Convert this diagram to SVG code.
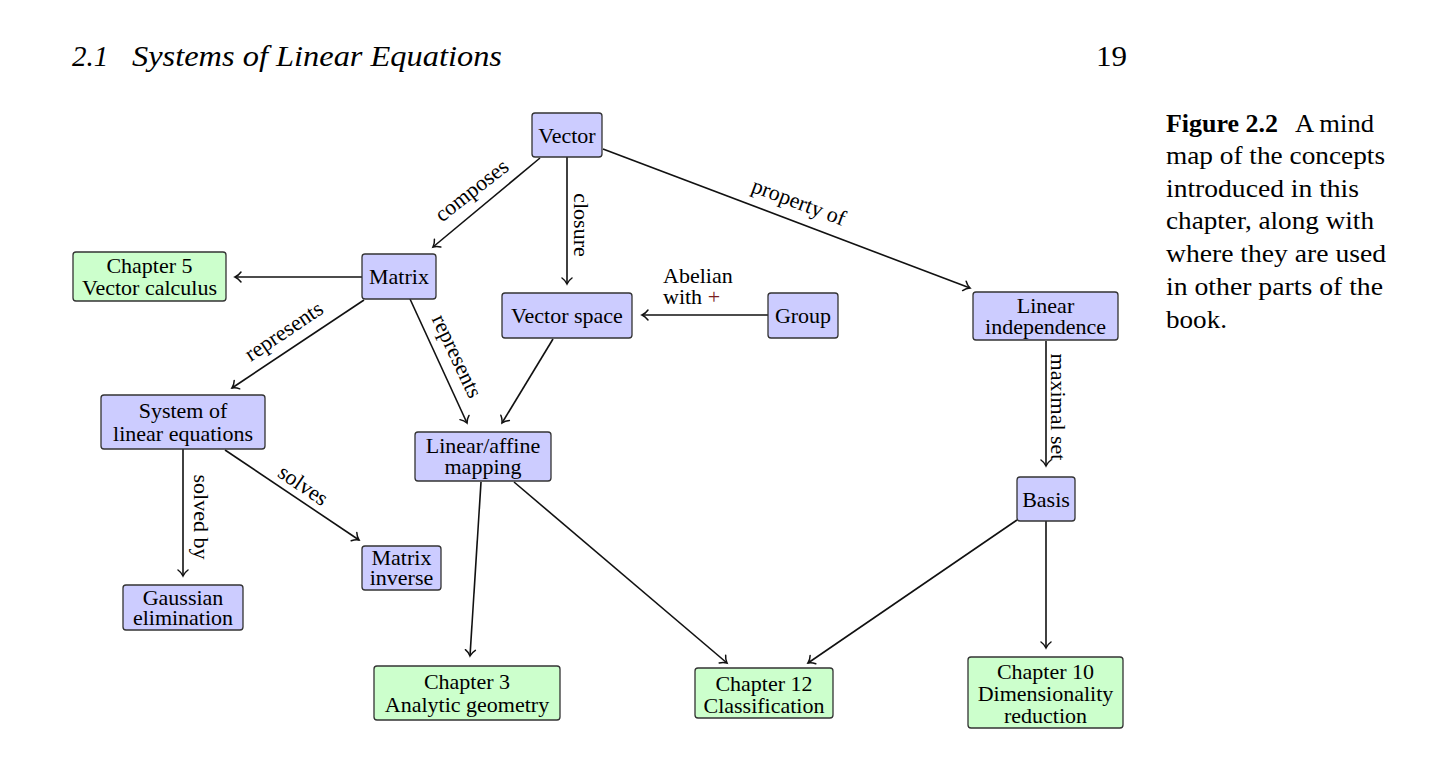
<svg xmlns="http://www.w3.org/2000/svg" width="1440" height="774" viewBox="0 0 1440 774">
<defs>
<marker id="arr" markerUnits="userSpaceOnUse" markerWidth="14" markerHeight="14" viewBox="-8 -7 10 14" refX="0" refY="0" orient="auto">
<path d="M-6,-5 C-4,-2.2 -1.8,-0.8 0,0 C-1.8,0.8 -4,2.2 -6,5" fill="none" stroke="#111" stroke-width="1.5" stroke-linecap="round"/>
</marker>
</defs>
<style>
.b{fill:#ccccff;stroke:#333;stroke-width:1.3}
.g{fill:#ccffcc;stroke:#333;stroke-width:1.3}
.t{font-family:"Liberation Serif","Times New Roman",serif;font-size:22px;fill:#000;text-anchor:middle}
.l{font-family:"Liberation Serif","Times New Roman",serif;font-size:22px;fill:#000;text-anchor:middle}
.c{fill:none;stroke:#111;stroke-width:1.6;marker-end:url(#arr)}
.cap{font-family:"Liberation Serif","Times New Roman",serif;font-size:25px;fill:#000}
</style>
<rect width="1440" height="774" fill="#fff"/>
<g id="header">
<text x="72" y="66" font-family="Liberation Serif, serif" font-style="italic" font-size="29">2.1</text>
<text x="132" y="66" font-family="Liberation Serif, serif" font-style="italic" font-size="29" textLength="370" lengthAdjust="spacingAndGlyphs">Systems of Linear Equations</text>
<text x="1096" y="66" font-family="Liberation Serif, serif" font-size="29" textLength="31" lengthAdjust="spacingAndGlyphs">19</text>
</g>
<g id="caption">
<text class="cap" x="1166" y="132" font-weight="bold" textLength="112" lengthAdjust="spacingAndGlyphs">Figure 2.2</text>
<text class="cap" x="1295" y="132" textLength="79" lengthAdjust="spacingAndGlyphs">A mind</text>
<text class="cap" x="1166" y="164" textLength="219" lengthAdjust="spacingAndGlyphs">map of the concepts</text>
<text class="cap" x="1166" y="197" textLength="193" lengthAdjust="spacingAndGlyphs">introduced in this</text>
<text class="cap" x="1166" y="229" textLength="208" lengthAdjust="spacingAndGlyphs">chapter, along with</text>
<text class="cap" x="1166" y="262" textLength="220" lengthAdjust="spacingAndGlyphs">where they are used</text>
<text class="cap" x="1166" y="295" textLength="217" lengthAdjust="spacingAndGlyphs">in other parts of the</text>
<text class="cap" x="1166" y="328" textLength="61" lengthAdjust="spacingAndGlyphs">book.</text>
</g>
<g id="connectors">
<path class="c" d="M540,158 L433,247"/>
<path class="c" d="M567,157 L567,284"/>
<path class="c" d="M603,149 L970,288"/>
<path class="c" d="M362,277 L235,277"/>
<path class="c" d="M364,300 L232,388"/>
<path class="c" d="M410,299 L467,423"/>
<path class="c" d="M768,315 L642,315"/>
<path class="c" d="M553,339 L502,423"/>
<path class="c" d="M1046,341 L1046,466"/>
<path class="c" d="M183,449 L183,576"/>
<path class="c" d="M225,450 L359,540"/>
<path class="c" d="M481,482 L470,656"/>
<path class="c" d="M514,482 L727,663"/>
<path class="c" d="M1017,520 L808,663"/>
<path class="c" d="M1046,521 L1046,648"/>
<g id="labels">
<text class="l" transform="translate(473,192) rotate(-38)" y="5">composes</text>
<text class="l" transform="translate(574,225) rotate(90)">closure</text>
<text class="l" transform="translate(798,204) rotate(20.6)" y="5">property of</text>
<text class="l" transform="translate(285,333) rotate(-34)" y="5">represents</text>
<text class="l" transform="translate(455,357) rotate(64.7)" y="5">represents</text>
<text class="l" transform="translate(1051,407) rotate(90)">maximal set</text>
<text class="l" transform="translate(194,517) rotate(90)">solved by</text>
<text class="l" transform="translate(302,487) rotate(34.3)" y="5">solves</text>
<text class="l" x="663" y="283" text-anchor="start" style="text-anchor:start">Abelian</text>
<text class="l" x="663" y="304" style="text-anchor:start">with <tspan fill="#7a1f1f">+</tspan></text>
</g>
</g>
<g id="vector"><rect class="b" x="532" y="113" width="70" height="44" rx="3"/><text class="t" x="567" y="142.5">Vector</text></g>
<g id="matrix"><rect class="b" x="362" y="254" width="74" height="45" rx="3"/><text class="t" x="399" y="284">Matrix</text></g>
<g id="chapter5"><rect class="g" x="73" y="252" width="153" height="49" rx="3"/><text class="t" x="149.5" y="273">Chapter 5</text><text class="t" x="149.5" y="295">Vector calculus</text></g>
<g id="vectorspace"><rect class="b" x="502" y="293" width="130" height="45" rx="3"/><text class="t" x="567" y="323">Vector space</text></g>
<g id="group"><rect class="b" x="768" y="293" width="70" height="45" rx="3"/><text class="t" x="803" y="323">Group</text></g>
<g id="linind"><rect class="b" x="973" y="292" width="145" height="48" rx="3"/><text class="t" x="1045.5" y="312.5">Linear</text><text class="t" x="1045.5" y="334">independence</text></g>
<g id="system"><rect class="b" x="101" y="395" width="164" height="54" rx="3"/><text class="t" x="183" y="418">System of</text><text class="t" x="183" y="440.5">linear equations</text></g>
<g id="linaff"><rect class="b" x="415" y="432" width="136" height="49" rx="3"/><text class="t" x="483" y="453">Linear/affine</text><text class="t" x="483" y="474">mapping</text></g>
<g id="matinv"><rect class="b" x="362" y="546" width="79" height="44" rx="3"/><text class="t" x="401.5" y="565">Matrix</text><text class="t" x="401.5" y="585">inverse</text></g>
<g id="gauss"><rect class="b" x="123" y="585" width="120" height="45" rx="3"/><text class="t" x="183" y="604.5">Gaussian</text><text class="t" x="183" y="625">elimination</text></g>
<g id="basis"><rect class="b" x="1017" y="477" width="58" height="44" rx="3"/><text class="t" x="1046" y="506.5">Basis</text></g>
<g id="chapter3"><rect class="g" x="374" y="666" width="186" height="54" rx="3"/><text class="t" x="467" y="689">Chapter 3</text><text class="t" x="467" y="712">Analytic geometry</text></g>
<g id="chapter12"><rect class="g" x="695" y="668" width="138" height="50" rx="3"/><text class="t" x="764" y="691">Chapter 12</text><text class="t" x="764" y="713">Classification</text></g>
<g id="chapter10"><rect class="g" x="968" y="657" width="155" height="71" rx="3"/><text class="t" x="1045.5" y="679">Chapter 10</text><text class="t" x="1045.5" y="701">Dimensionality</text><text class="t" x="1045.5" y="723">reduction</text></g>
</svg>
